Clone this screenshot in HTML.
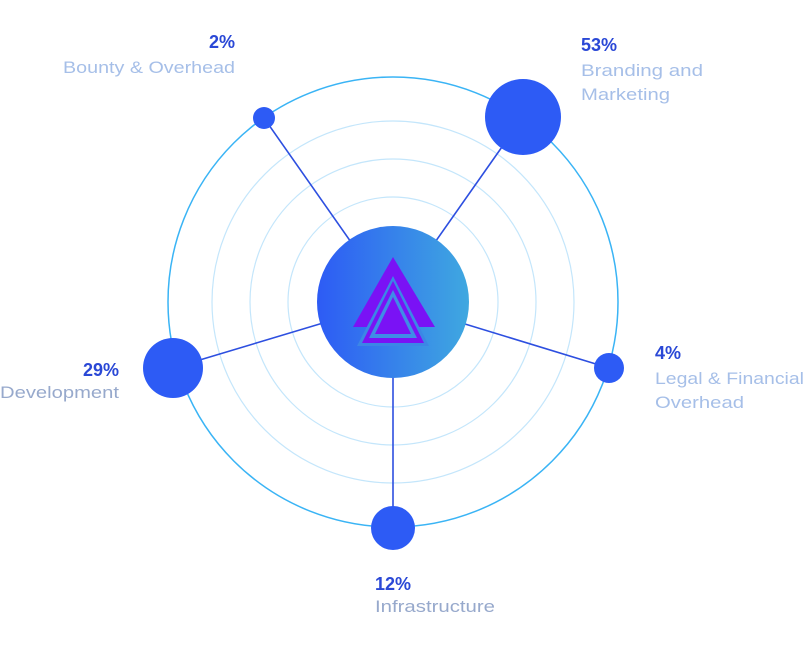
<!DOCTYPE html>
<html><head><meta charset="utf-8"><style>
html,body{margin:0;padding:0;background:#fff;}
svg{display:block;}
text{font-family:"Liberation Sans",sans-serif;}
.p{font-weight:bold;font-size:18px;fill:#2a48d6;}
.l{font-size:17px;fill:#a6bfe8;}
.g{font-size:17px;fill:#97a9cc;}
</style></head><body>
<svg width="809" height="660" viewBox="0 0 809 660" xmlns="http://www.w3.org/2000/svg">
<defs>
<linearGradient id="cg" x1="0" y1="0" x2="1" y2="0">
<stop offset="0" stop-color="#2d5bf5"/><stop offset="1" stop-color="#3fa8e0"/>
</linearGradient>
</defs>
<circle cx="393" cy="302" r="225" fill="none" stroke="#3ab4f5" stroke-width="1.5"/>
<circle cx="393" cy="302" r="181" fill="none" stroke="#c4e6fb" stroke-width="1.2"/>
<circle cx="393" cy="302" r="143" fill="none" stroke="#c4e6fb" stroke-width="1.2"/>
<circle cx="393" cy="302" r="105" fill="none" stroke="#c4e6fb" stroke-width="1.2"/>
<g stroke="#2d4fe0" stroke-width="1.6">
<line x1="393" y1="302" x2="264" y2="118"/>
<line x1="393" y1="302" x2="523" y2="117"/>
<line x1="393" y1="302" x2="609" y2="368"/>
<line x1="393" y1="302" x2="393" y2="528"/>
<line x1="393" y1="302" x2="173" y2="368"/>
</g>
<circle cx="393" cy="302" r="76" fill="url(#cg)"/>
<polygon points="353,327 393,257 435,327" fill="#7a12f5"/>
<polygon points="357,346 393,276 429,346" fill="#3b86e6"/>
<polygon points="362,343 393,281 424,343" fill="#7a12f5"/>
<polygon points="369,338 393,290 417,338" fill="#3f8ce6"/>
<polygon points="375,334 393,297 411,334" fill="#7a12f5"/>
<g fill="#2d5bf5">
<circle cx="264" cy="118" r="11"/>
<circle cx="523" cy="117" r="38"/>
<circle cx="609" cy="368" r="15"/>
<circle cx="393" cy="528" r="22"/>
<circle cx="173" cy="368" r="30"/>
</g>
<text class="p" x="235" y="48" text-anchor="end">2%</text>
<text class="l" x="63" y="73" textLength="172" lengthAdjust="spacingAndGlyphs">Bounty &amp; Overhead</text>
<text class="p" x="581" y="51">53%</text>
<text class="l" x="581" y="76" textLength="122" lengthAdjust="spacingAndGlyphs">Branding and</text>
<text class="l" x="581" y="100" textLength="89" lengthAdjust="spacingAndGlyphs">Marketing</text>
<text class="p" x="655" y="359">4%</text>
<text class="l" x="655" y="384" textLength="149" lengthAdjust="spacingAndGlyphs">Legal &amp; Financial</text>
<text class="l" x="655" y="408" textLength="89" lengthAdjust="spacingAndGlyphs">Overhead</text>
<text class="p" x="119" y="376" text-anchor="end">29%</text>
<text class="g" x="0" y="398" textLength="119" lengthAdjust="spacingAndGlyphs">Development</text>
<text class="p" x="375" y="590">12%</text>
<text class="g" x="375" y="612" textLength="120" lengthAdjust="spacingAndGlyphs">Infrastructure</text>
</svg>
</body></html>
